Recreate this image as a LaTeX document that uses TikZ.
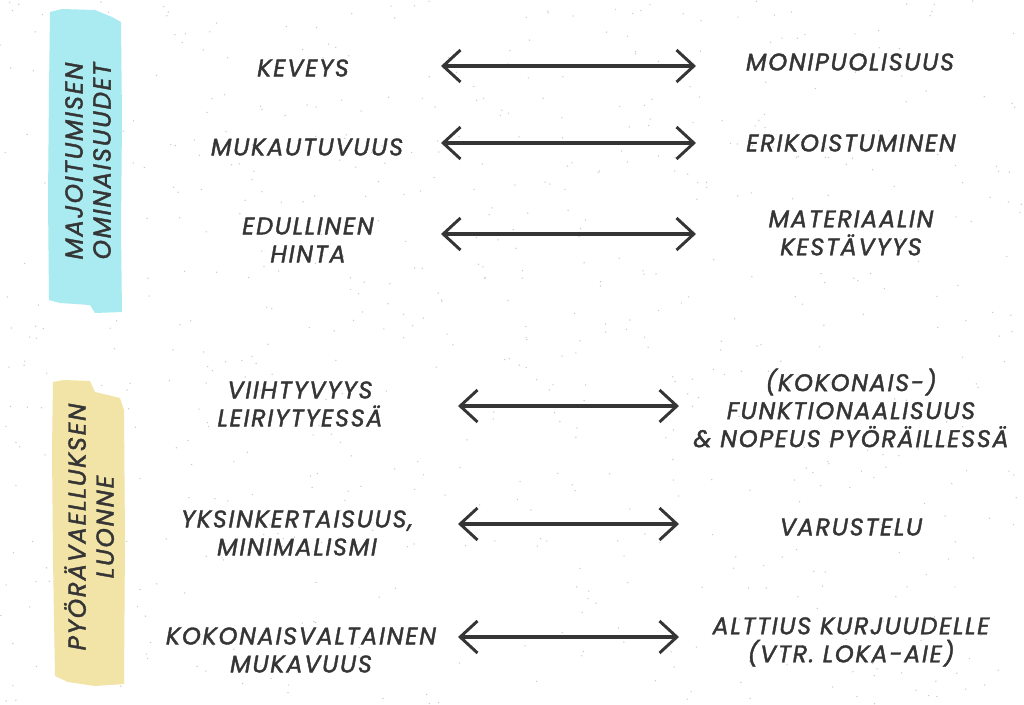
\documentclass[tikz,border=0pt]{standalone}
\usepackage{fontspec}
\newfontfamily\hand[LetterSpace=7,FakeBold=1.6]{Poppins}
\usetikzlibrary{arrows.meta}
\definecolor{ink}{HTML}{353535}
\definecolor{tapeblue}{HTML}{A9EBF1}
\definecolor{tapeyellow}{HTML}{F2E3A6}
\definecolor{grain}{HTML}{C8C8C8}

\begin{document}
\begin{tikzpicture}[x=0.75pt,y=-0.75pt,
  lbl/.style={font=\hand\itshape\fontsize{18}{21}\selectfont, text=ink, align=center, inner sep=0pt},
  side/.style={font=\hand\itshape\fontsize{18.5}{21}\selectfont, text=ink, align=center, inner sep=0pt, rotate=90},
  link/.style={draw=ink, line width=2.4pt, line cap=round,
    {Straight Barb[length=13pt, width=24pt, line width=2.2pt]}-{Straight Barb[length=13pt, width=24pt, line width=2.2pt]}}
]
\useasboundingbox (0,0) rectangle (1024,704);
\fill[white] (0,0) rectangle (1024,704);

% paper grain
\pgfmathsetseed{11}
\foreach \i in {1,...,700}{
  \pgfmathsetmacro{\px}{rnd*1024}
  \pgfmathsetmacro{\py}{rnd*704}
  \fill[grain] (\px,\py) circle (0.55pt);
}

% marker tapes
\fill[tapeblue] (50,12) -- (62,9) -- (95,10) -- (112,17) -- (121,22) -- (122,120)
  -- (121,230) -- (122,312) -- (95,313) -- (90,305) -- (60,303) -- (49,300)
  -- (48,200) -- (49,90) -- cycle;
\fill[tapeyellow] (53,382) -- (64,380) -- (90,381) -- (95,392) -- (120,398) -- (124,410)
  -- (125,540) -- (124,684) -- (95,686) -- (68,682) -- (55,676) -- (53,560) -- (52,450) -- cycle;

% side headings
\node[side] (hA) at (88,161) {MAJOITUMISEN\\OMINAISUUDET};
\node[side] (hB) at (89,527) {PYÖRÄVAELLUKSEN\\LUONNE};

% left-hand terms
\node[lbl] (l1) at (303,68)  {KEVEYS};
\node[lbl] (l2) at (307,147) {MUKAUTUVUUS};
\node[lbl] (l3) at (308,240) {EDULLINEN\\HINTA};
\node[lbl] (l4) at (300,404) {VIIHTYVYYS\\LEIRIYTYESSÄ};
\node[lbl] (l5) at (297,533) {YKSINKERTAISUUS,\\MINIMALISMI};
\node[lbl] (l6) at (301,650) {KOKONAISVALTAINEN\\MUKAVUUS};

% right-hand terms
\node[lbl] (r1) at (850,62)  {MONIPUOLISUUS};
\node[lbl] (r2) at (851,143) {ERIKOISTUMINEN};
\node[lbl] (r3) at (851,233) {MATERIAALIN\\KESTÄVYYS};
\node[lbl] (r4) at (851,408) {(KOKONAIS-)\\FUNKTIONAALISUUS\\\& NOPEUS PYÖRÄILLESSÄ};
\node[lbl] (r5) at (851,527) {VARUSTELU};
\node[lbl] (r6) at (851,642) {ALTTIUS KURJUUDELLE\\(VTR. LOKA-AIE)};

% arrow anchors
\coordinate (a1) at (441,66);  \coordinate (b1) at (696,66);
\coordinate (a2) at (441,143); \coordinate (b2) at (696,143);
\coordinate (a3) at (441,234); \coordinate (b3) at (696,234);
\coordinate (a4) at (458,406); \coordinate (b4) at (679,406);
\coordinate (a5) at (458,524); \coordinate (b5) at (679,524);
\coordinate (a6) at (458,637); \coordinate (b6) at (679,637);

\foreach \k in {1,...,6}{ \draw[link] (a\k) -- (b\k); }
\end{tikzpicture}
\end{document}
